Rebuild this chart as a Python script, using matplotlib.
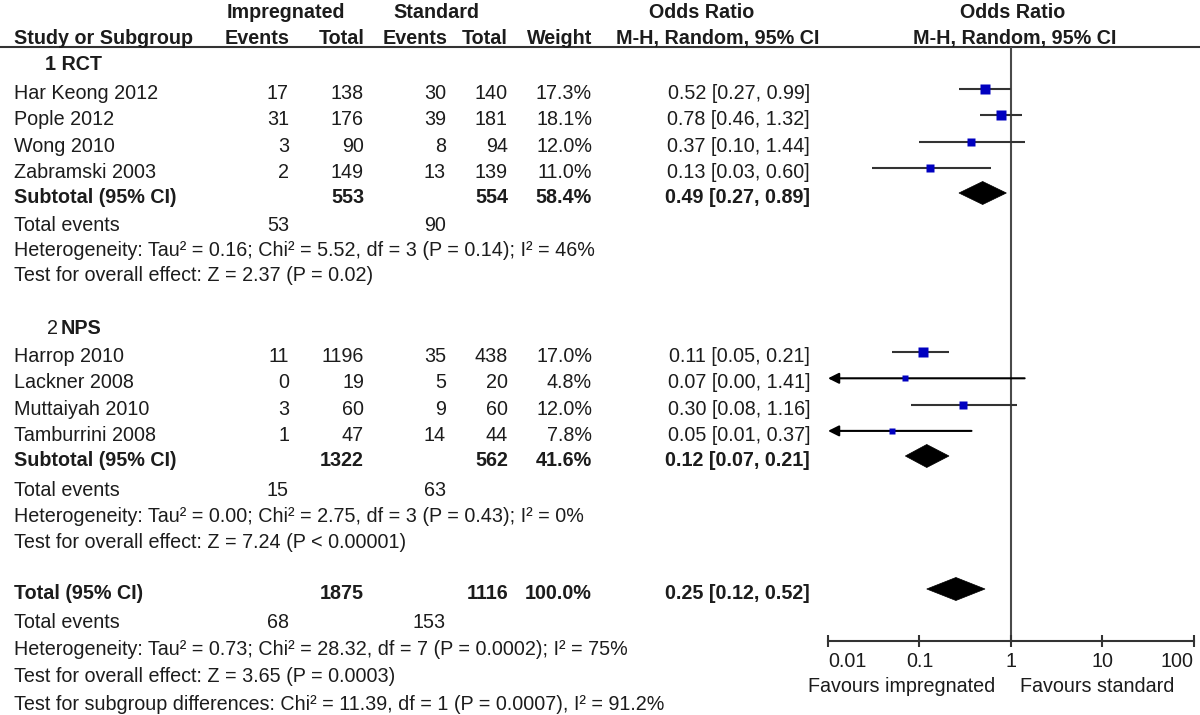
import matplotlib
matplotlib.use("Agg")
import matplotlib.pyplot as plt
import numpy as np
from matplotlib.patches import Polygon

plt.rcParams['font.family'] = ['Liberation Sans', 'DejaVu Sans']

# ---------------- data ----------------
group_labels = [("1", "RCT"), ("2", "NPS")]
study_names = [["Har Keong 2012", "Pople 2012", "Wong 2010", "Zabramski 2003"],
               ["Harrop 2010", "Lackner 2008", "Muttaiyah 2010", "Tamburrini 2008"]]
imp_events = [[17, 31, 3, 2], [11, 0, 3, 1]]
imp_total = [[138, 176, 90, 149], [1196, 19, 60, 47]]
std_events = [[30, 39, 8, 13], [35, 5, 9, 14]]
std_total = [[140, 181, 94, 139], [438, 20, 60, 44]]
weights = [[17.3, 18.1, 12.0, 11.0], [17.0, 4.8, 12.0, 7.8]]
or_est = [[0.52, 0.78, 0.37, 0.13], [0.11, 0.07, 0.30, 0.05]]
or_low = [[0.27, 0.46, 0.10, 0.03], [0.05, 0.00, 0.08, 0.01]]
or_high = [[0.99, 1.32, 1.44, 0.60], [0.21, 1.41, 1.16, 0.37]]

sub_imp_total = [553, 1322]
sub_std_total = [554, 562]
sub_weight = [58.4, 41.6]
sub_or = [0.49, 0.12]
sub_low = [0.27, 0.07]
sub_high = [0.89, 0.21]
sub_imp_events = [53, 15]
sub_std_events = [90, 63]
sub_het = ["Heterogeneity: Tau² = 0.16; Chi² = 5.52, df = 3 (P = 0.14); I² = 46%",
           "Heterogeneity: Tau² = 0.00; Chi² = 2.75, df = 3 (P = 0.43); I² = 0%"]
sub_test = ["Test for overall effect: Z = 2.37 (P = 0.02)",
            "Test for overall effect: Z = 7.24 (P < 0.00001)"]

tot_imp_total = 1875
tot_std_total = 1116
tot_weight = 100.0
tot_or = 0.25
tot_low = 0.12
tot_high = 0.52
tot_imp_events = 68
tot_std_events = 153
tot_het = "Heterogeneity: Tau² = 0.73; Chi² = 28.32, df = 7 (P = 0.0002); I² = 75%"
tot_test = "Test for overall effect: Z = 3.65 (P = 0.0003)"
subgroup_test = "Test for subgroup differences: Chi² = 11.39, df = 1 (P = 0.0007), I² = 91.2%"

axis_ticks = [0.01, 0.1, 1, 10, 100]
axis_ticklabels = ["0.01", "0.1", "1", "10", "100"]
favours_left = "Favours impregnated"
favours_right = "Favours standard"

# ---------------- layout ----------------
W, H = 1200, 715
FS = 14.2
TXT = '#1c1c1c'
LINE = '#333333'
BLUE = '#0000c0'

fig = plt.figure(figsize=(12, 7.15), dpi=100)
ax_t = fig.add_axes([0, 0, 1, 1])
ax_t.set_xlim(0, W)
ax_t.set_ylim(H, 0)
ax_t.axis('off')

header_line_y = 47
axis_y = 641
x_left, x_right = 828, 1194
ax_f = fig.add_axes([x_left / W, (H - axis_y) / H, (x_right - x_left) / W, (axis_y - header_line_y) / H])
ax_f.set_xscale('log')
ax_f.set_xlim(0.01, 100)
ax_f.set_ylim(axis_y, header_line_y)
ax_f.patch.set_alpha(0)
for s in ['left', 'right', 'top']:
    ax_f.spines[s].set_visible(False)
ax_f.spines['bottom'].set_linewidth(1.5)
ax_f.spines['bottom'].set_color(LINE)
ax_f.set_yticks([])
ax_f.set_xticks(axis_ticks)
ax_f.set_xticklabels(axis_ticklabels)
ax_f.xaxis.set_minor_locator(matplotlib.ticker.NullLocator())
ax_f.tick_params(axis='x', direction='inout', length=8.5, width=1.5, color=LINE,
                 labelsize=FS, labelcolor=TXT, pad=4)
tl = ax_f.get_xticklabels()
tl[0].set_horizontalalignment('left')
tl[-1].set_horizontalalignment('right')
ax_f.axvline(1, color='#4a4a4a', lw=1.5, zorder=1)

# columns (right edges)
c_name = 14
c_ie, c_it, c_se, c_st, c_w, c_or = 289, 364, 446, 508, 592, 810


def txt(x, y, s, ha='left', bold=False):
    ax_t.text(x, y + 6, s, ha=ha, va='baseline', fontsize=FS, color=TXT,
              fontweight='bold' if bold else 'normal')


# header
txt(285.5, 12, "Impregnated", ha='center', bold=True)
txt(436, 12, "Standard", ha='center', bold=True)
txt(702, 12, "Odds Ratio", ha='center', bold=True)
txt(1013, 12, "Odds Ratio", ha='center', bold=True)
txt(c_name, 38, "Study or Subgroup", bold=True)
txt(290, 38, "Events", ha='right', bold=True)
txt(c_it + 1, 38, "Total", ha='right', bold=True)
txt(447, 38, "Events", ha='right', bold=True)
txt(c_st, 38, "Total", ha='right', bold=True)
txt(c_w, 38, "Weight", ha='right', bold=True)
txt(718, 38, "M-H, Random, 95% CI", ha='center', bold=True)
txt(1015, 38, "M-H, Random, 95% CI", ha='center', bold=True)
ax_t.axhline(header_line_y, color=LINE, lw=1.5)

group_y = [64, 328]
study_y0 = [93, 356]
step = 26.3
sub_y = [197, 460]
te_y = [225, 490]
het_y = [250, 516]
test_y = [275, 542]
mk_off = -4
diamond_h = 11.5


def draw_ci(y, est, lo, hi, w):
    ym = y + mk_off
    if lo <= 0.01:
        ax_f.annotate('', xy=(0.01, ym), xytext=(hi, ym), annotation_clip=False,
                      arrowprops=dict(arrowstyle='-|>', color='black', lw=1.5,
                                      mutation_scale=16, shrinkA=0, shrinkB=0))
    else:
        ax_f.plot([lo, hi], [ym, ym], color=LINE, lw=1.5, solid_capstyle='butt', zorder=2)
    side_px = 2.4 * np.sqrt(w)
    ax_f.plot([est], [ym], marker='s', ms=side_px * 0.72, color=BLUE, mec='none', zorder=3)


def draw_diamond(y, est, lo, hi):
    ym = y + mk_off
    poly = Polygon([(lo, ym), (est, ym - diamond_h), (hi, ym), (est, ym + diamond_h)],
                   closed=True, facecolor='black', edgecolor='black', lw=0.5, zorder=3)
    ax_f.add_patch(poly)


for g in range(2):
    num, lab = group_labels[g]
    if g == 0:
        txt(45, group_y[g], num + " " + lab, bold=True)
    else:
        txt(47, group_y[g], num)
        txt(61, group_y[g], lab, bold=True)
    for i, name in enumerate(study_names[g]):
        y = study_y0[g] + i * step
        txt(c_name, y, name)
        txt(c_ie, y, str(imp_events[g][i]), ha='right')
        txt(c_it, y, str(imp_total[g][i]), ha='right')
        txt(c_se, y, str(std_events[g][i]), ha='right')
        txt(c_st, y, str(std_total[g][i]), ha='right')
        txt(c_w, y, f"{weights[g][i]:.1f}%", ha='right')
        txt(c_or, y, f"{or_est[g][i]:.2f} [{or_low[g][i]:.2f}, {or_high[g][i]:.2f}]", ha='right')
        draw_ci(y, or_est[g][i], or_low[g][i], or_high[g][i], weights[g][i])
    y = sub_y[g]
    txt(c_name, y, "Subtotal (95% CI)", bold=True)
    txt(c_it, y, str(sub_imp_total[g]), ha='right', bold=True)
    txt(c_st, y, str(sub_std_total[g]), ha='right', bold=True)
    txt(c_w, y, f"{sub_weight[g]:.1f}%", ha='right', bold=True)
    txt(c_or, y, f"{sub_or[g]:.2f} [{sub_low[g]:.2f}, {sub_high[g]:.2f}]", ha='right', bold=True)
    draw_diamond(y, sub_or[g], sub_low[g], sub_high[g])
    txt(c_name, te_y[g], "Total events")
    txt(c_ie, te_y[g], str(sub_imp_events[g]), ha='right')
    txt(c_se, te_y[g], str(sub_std_events[g]), ha='right')
    txt(c_name, het_y[g], sub_het[g])
    txt(c_name, test_y[g], sub_test[g])

# overall
ty = 593
txt(c_name, ty, "Total (95% CI)", bold=True)
txt(c_it, ty, str(tot_imp_total), ha='right', bold=True)
txt(c_st, ty, str(tot_std_total), ha='right', bold=True)
txt(c_w, ty, f"{tot_weight:.1f}%", ha='right', bold=True)
txt(c_or, ty, f"{tot_or:.2f} [{tot_low:.2f}, {tot_high:.2f}]", ha='right', bold=True)
draw_diamond(ty, tot_or, tot_low, tot_high)
txt(c_name, 622, "Total events")
txt(c_ie, 622, str(tot_imp_events), ha='right')
txt(c_se, 622, str(tot_std_events), ha='right')
txt(c_name, 649, tot_het)
txt(c_name, 676, tot_test)
txt(c_name, 704, subgroup_test)

txt(995, 686, favours_left, ha='right')
txt(1020, 686, favours_right, ha='left')

fig.savefig("out.png", dpi=100)
